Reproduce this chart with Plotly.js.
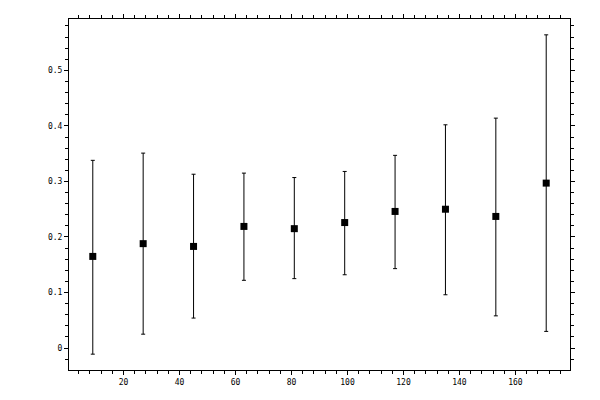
<!DOCTYPE html>
<html>
<head>
<meta charset="utf-8">
<script src="https://cdn.plot.ly/plotly-3.0.1.min.js"></script>
<style>
  html, body { margin: 0; padding: 0; background: #fff; }
  #chart { width: 600px; height: 400px; }
</style>
</head>
<body>
<div id="chart"></div>
<script>
// Values
const xValues = [9, 27, 45, 63, 81, 99, 117, 135, 153, 171];
const yValues = [0.165, 0.188, 0.183, 0.219, 0.215, 0.226, 0.246, 0.250, 0.237, 0.297];
const upperValues = [0.338, 0.351, 0.313, 0.315, 0.307, 0.318, 0.347, 0.402, 0.414, 0.564];
const lowerValues = [-0.011, 0.025, 0.054, 0.122, 0.125, 0.132, 0.143, 0.096, 0.058, 0.030];

const xRange = [0.5, 179.5];
const yRange = [-0.0395, 0.5925];

const errPlus = upperValues.map((u, i) => u - yValues[i]);
const errMinus = lowerValues.map((l, i) => yValues[i] - l);

const tickFont = { family: 'DejaVu Sans Mono, monospace', size: 8, color: '#000' };

const trace = {
    x: xValues,
    y: yValues,
    type: 'scatter',
    mode: 'markers',
    marker: { symbol: 'square', size: 7, color: '#000' },
    error_y: {
        type: 'data',
        symmetric: false,
        array: errPlus,
        arrayminus: errMinus,
        color: '#000',
        thickness: 1,
        width: 2,
    },
    hoverinfo: 'x+y',
    showlegend: false,
};

// Main axes: outward ticks with labels; overlay axes add inward half of major ticks
const baseAxis = {
    showgrid: false,
    zeroline: false,
    showline: true,
    linecolor: '#000',
    linewidth: 1,
    mirror: 'allticks',
    ticks: 'outside',
    ticklen: 4,
    tickwidth: 1,
    tickcolor: '#000',
    tickfont: tickFont,
    fixedrange: true,
};

const layout = {
    width: 600,
    height: 400,
    margin: { l: 69, r: 30, t: 19, b: 30, pad: 0 },
    paper_bgcolor: '#fff',
    plot_bgcolor: '#fff',
    showlegend: false,
    xaxis: {
        ...baseAxis,
        range: xRange,
        tick0: 0,
        dtick: 20,
        minor: { dtick: 4, ticks: 'outside', ticklen: 3, tickcolor: '#000', tickwidth: 1 },
    },
    yaxis: {
        ...baseAxis,
        range: yRange,
        tick0: 0,
        dtick: 0.1,
        minor: { dtick: 0.02, ticks: 'outside', ticklen: 3, tickcolor: '#000', tickwidth: 1 },
    },
    xaxis2: {
        overlaying: 'x',
        anchor: 'y',
        range: xRange,
        tick0: 0,
        dtick: 20,
        ticks: 'inside',
        ticklen: 4,
        tickcolor: '#000',
        mirror: 'allticks',
        showline: false,
        showgrid: false,
        zeroline: false,
        showticklabels: false,
        fixedrange: true,
    },
    yaxis2: {
        overlaying: 'y',
        anchor: 'x',
        range: yRange,
        tick0: 0,
        dtick: 0.1,
        ticks: 'inside',
        ticklen: 4,
        tickcolor: '#000',
        mirror: 'allticks',
        showline: false,
        showgrid: false,
        zeroline: false,
        showticklabels: false,
        fixedrange: true,
    },
};

Plotly.newPlot('chart', [trace], layout, { staticPlot: true, displayModeBar: false });
</script>
</body>
</html>
